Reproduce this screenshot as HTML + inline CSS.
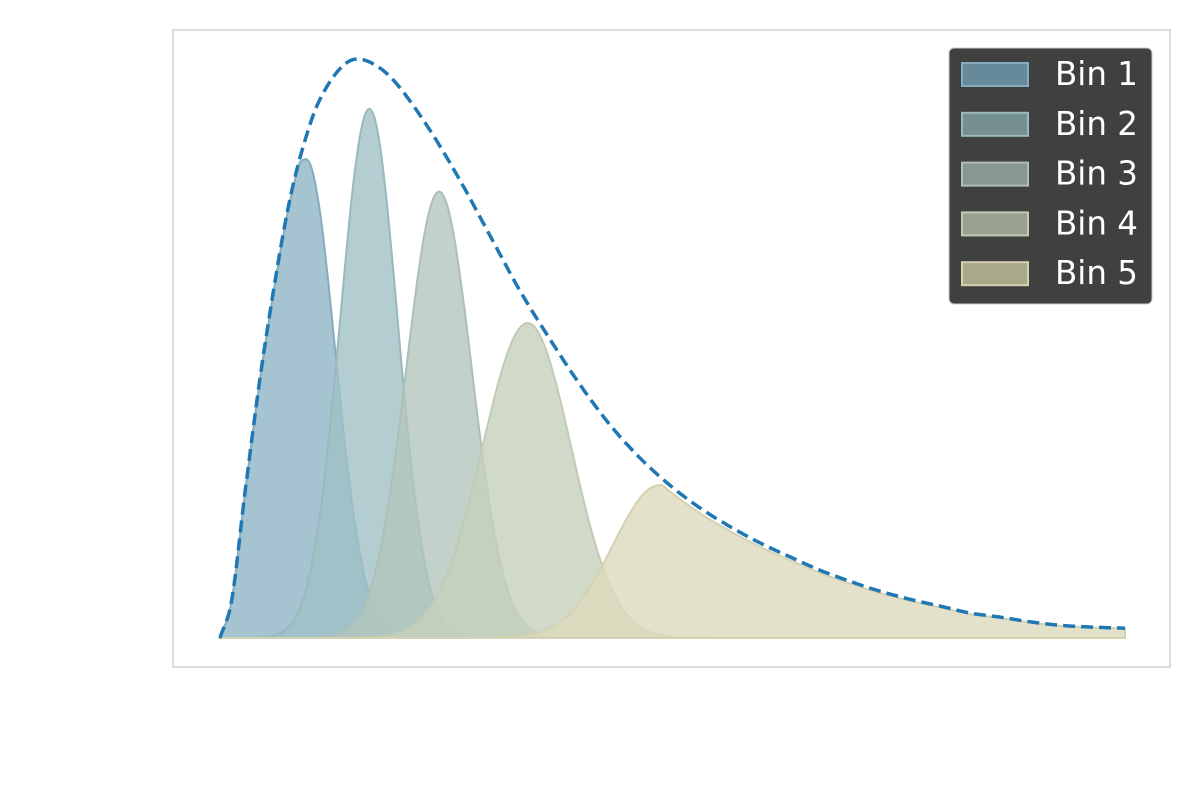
<!DOCTYPE html>
<html><head><meta charset="utf-8"><style>
html,body{margin:0;padding:0;background:#fff;}
svg{display:block;font-family:"Liberation Sans","DejaVu Sans",sans-serif;}
</style></head><body>
<svg id="chart" width="1200" height="800" viewBox="0 0 1200 800">
<rect x="173" y="30" width="997" height="637" fill="#fff" stroke="#d0d0d0" stroke-width="1.5"/>
<g id="bins"></g>
<path id="total" fill="none" stroke="#1f77b4" stroke-width="3.5" stroke-dasharray="12,6"/>
<g id="legend"></g>
</svg>
<script>
// total density curve (x in 0..1, y relative to peak)
const curveX = [0,0.013,0.028,0.044,0.061,0.077,0.094,0.110,0.133,0.152,0.177,0.199,0.232,0.265,0.298,0.331,0.365,0.398,0.431,0.464,0.497,0.530,0.564,0.597,0.630,0.663,0.696,0.729,0.762,0.796,0.829,0.862,0.895,0.928,0.961,1.0];
const curveY = [0,0.066,0.256,0.446,0.618,0.756,0.860,0.929,0.984,1.0,0.984,0.950,0.877,0.791,0.696,0.601,0.515,0.437,0.368,0.311,0.264,0.225,0.192,0.164,0.140,0.117,0.098,0.081,0.067,0.055,0.043,0.036,0.028,0.022,0.019,0.017];
// bins: centers, peaks, left/right spread (data units)
const binNames = ["Bin 1","Bin 2","Bin 3","Bin 4","Bin 5"];
const binCenters = [0.095,0.165,0.242,0.340,0.486];
const binPeaks = [0.827,0.914,0.771,0.544,0.264];
const binSigmaL = [0.060,0.032,0.036,0.050,0.052];
const binSigmaR = [0.032,0.031,0.036,0.048,null];
const fills = ["#8fb4c6","#a0c0c6","#b3c6bd","#c6d1bc","#dcdabb"];
const strokes = ["#86adbd","#98b9bd","#adc0b6","#c0cbb4","#d4d2b2"];
const legendFills = ["#668a99","#76908f","#889890","#9aa090","#a8a88a"];

const X0=220,X1=1125,Y0=638,Y1=59;
const sx=v=>X0+v*(X1-X0), sy=v=>Y0-v*(Y0-Y1);
function curveAt(x){
  const n=curveX.length;
  for(let i=1;i<n;i++){
    if(x<=curveX[i]){
      const x0=curveX[i-1],x1=curveX[i],t=(x-x0)/(x1-x0);
      const y0=curveY[i-1],y1=curveY[i];
      const ym=i>1?curveY[i-2]:y0-(y1-y0), yp=i<n-1?curveY[i+1]:y1+(y1-y0);
      const xm=i>1?curveX[i-2]:x0-(x1-x0), xp=i<n-1?curveX[i+1]:x1+(x1-x0);
      const m0=(y1-ym)/(x1-xm)*(x1-x0), m1=(yp-y0)/(xp-x0)*(x1-x0);
      const t2=t*t,t3=t2*t;
      return Math.max(0,(2*t3-3*t2+1)*y0+(t3-2*t2+t)*m0+(-2*t3+3*t2)*y1+(t3-t2)*m1);
    }
  }
  return curveY[n-1];
}
const NS="http://www.w3.org/2000/svg";
let d="";
for(let i=0;i<=600;i++){const x=i/600;d+=(i?"L":"M")+sx(x).toFixed(1)+","+sy(curveAt(x)).toFixed(1);}
document.getElementById("total").setAttribute("d",d);
const g=document.getElementById("bins");
binNames.forEach((n,b)=>{
  let p="M"+sx(0)+","+Y0;
  for(let i=0;i<=600;i++){
    const x=i/600;let v;
    if(x<=binCenters[b]) v=binPeaks[b]*Math.exp(-Math.pow(x-binCenters[b],2)/(2*binSigmaL[b]*binSigmaL[b]));
    else if(binSigmaR[b]===null) v=Math.min(binPeaks[b],curveAt(x)*0.96);
    else v=binPeaks[b]*Math.exp(-Math.pow(x-binCenters[b],2)/(2*binSigmaR[b]*binSigmaR[b]));
    v=Math.min(v,curveAt(x)*0.995);
    p+="L"+sx(x).toFixed(1)+","+sy(v).toFixed(1);
  }
  p+="L"+sx(1)+","+Y0+"Z";
  const el=document.createElementNS(NS,"path");
  el.setAttribute("d",p);el.setAttribute("fill",fills[b]);el.setAttribute("fill-opacity","0.8");
  el.setAttribute("stroke",strokes[b]);el.setAttribute("stroke-width","2");
  
  
  g.appendChild(el);
});
const lg=document.getElementById("legend");
const bg=document.createElementNS(NS,"rect");
bg.setAttribute("x",949);bg.setAttribute("y",48);bg.setAttribute("width",203);bg.setAttribute("height",256);
bg.setAttribute("rx",5);bg.setAttribute("fill","#404040");bg.setAttribute("stroke","#cccccc");bg.setAttribute("stroke-width","1");


lg.appendChild(bg);
binNames.forEach((n,b)=>{
  const y=63+b*49.8;
  const r=document.createElementNS(NS,"rect");
  r.setAttribute("x",962);r.setAttribute("y",y);r.setAttribute("width",66);r.setAttribute("height",23);
  r.setAttribute("fill",legendFills[b]);r.setAttribute("stroke",strokes[b]);r.setAttribute("stroke-width","2");
  
  
  lg.appendChild(r);
  const t=document.createElementNS(NS,"text");
  t.setAttribute("x",1055);t.setAttribute("y",y+22);t.setAttribute("fill","#ffffff");t.setAttribute("font-size","32.5");
  t.setAttribute("font-family","'DejaVu Sans','Liberation Sans',sans-serif");
  t.textContent=n;
  
  
  lg.appendChild(t);
});
</script>
</body></html>
